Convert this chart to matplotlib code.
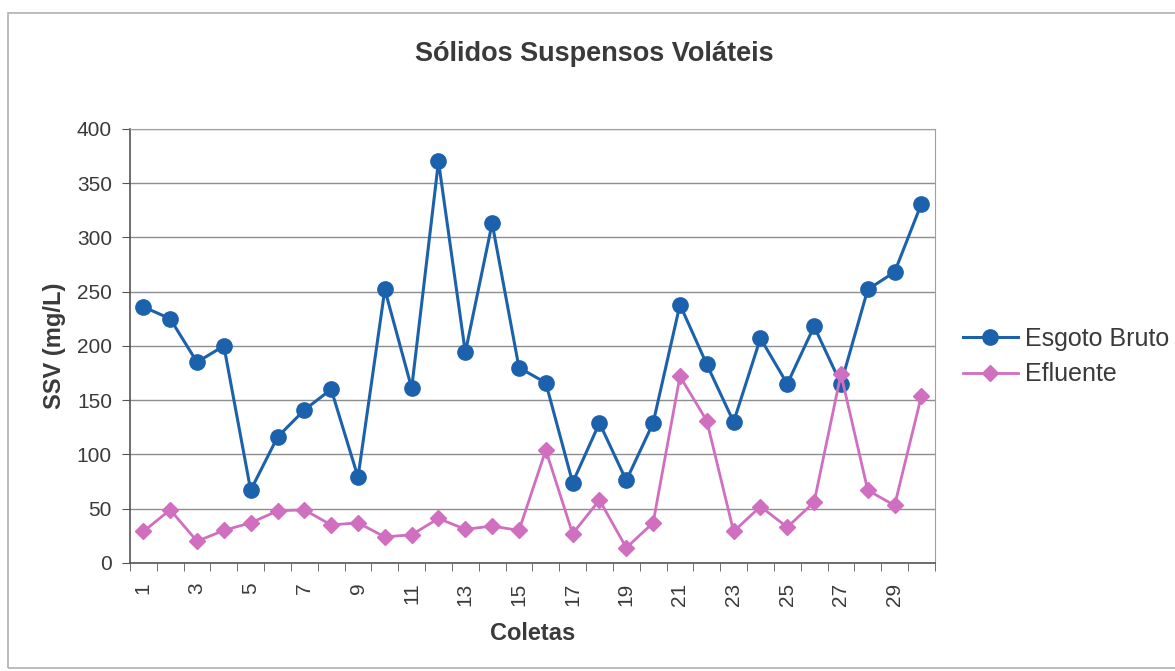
import numpy as np
import matplotlib.pyplot as plt
from matplotlib.patches import Rectangle

# Volatile suspended solids per sampling campaign
coletas = list(range(1, 31))
esgoto_bruto = [236, 225, 185, 200, 67, 116, 141, 160, 79, 252,
                161, 370, 194, 313, 180, 166, 74, 129, 76, 129,
                238, 183, 130, 207, 165, 218, 165, 252, 268, 331]
efluente = [29, 49, 20, 30, 37, 48, 49, 35, 37, 24,
            26, 41, 31, 34, 30, 104, 27, 58, 14, 37,
            172, 131, 29, 52, 33, 56, 174, 67, 53, 154]
y_ticks = [0, 50, 100, 150, 200, 250, 300, 350, 400]

plt.rcParams['font.family'] = ['Liberation Sans', 'DejaVu Sans']
text_color = '#3a3a3a'

fig = plt.figure(figsize=(11.75, 6.71), dpi=100)
# chart frame, running off the right edge
fig.patches.append(Rectangle((0.007, 0.005), 1.05, 0.975, transform=fig.transFigure,
                             fill=False, edgecolor='#b0b0b0', linewidth=1.2))

ax = fig.add_axes([0.1106, 0.161, 0.685, 0.647])
x = np.arange(len(coletas))

ax.plot(x, esgoto_bruto, color='#1c61ab', linewidth=2.2, marker='o',
        markersize=11, label='Esgoto Bruto', zorder=3)
ax.plot(x, efluente, color='#d06ec0', linewidth=2.0, marker='D',
        markersize=8.5, label='Efluente', zorder=3)

ax.set_xlim(-0.5, len(coletas) - 0.5)
ax.set_ylim(0, 400)
ax.set_yticks(y_ticks)
ax.tick_params(axis='y', labelsize=15, length=6, color='#555555',
               labelcolor=text_color, pad=7)
ax.yaxis.grid(True, color='#8e8e8e', linewidth=1.0)
ax.set_axisbelow(True)

# labels on every other category, tick marks on category boundaries
ax.set_xticks(x[::2])
ax.set_xticklabels([str(c) for c in coletas[::2]], rotation=90, fontsize=15,
                   color=text_color)
ax.tick_params(axis='x', length=0, pad=14)
ax.set_xticks(np.arange(-0.5, len(coletas)), minor=True)
ax.tick_params(axis='x', which='minor', length=6, color='#555555')

for side in ['top', 'right']:
    ax.spines[side].set_color('#a0a0a0')
for side in ['left', 'bottom']:
    ax.spines[side].set_color('#555555')
    ax.spines[side].set_linewidth(1.2)

fig.text(0.5055, 0.920, 'Sólidos Suspensos Voláteis', fontsize=19.5,
         fontweight='bold', color=text_color, ha='center', va='center')
ax.set_ylabel('SSV (mg/L)', fontsize=17, fontweight='bold', color=text_color, labelpad=8)
ax.set_xlabel('Coletas', fontsize=17, fontweight='bold', color=text_color, labelpad=12)

ax.legend(loc='center left', bbox_to_anchor=(1.007, 0.475), frameon=False,
          fontsize=18, handlelength=2.2, handletextpad=0.28, labelspacing=0.45,
          labelcolor=text_color)

fig.savefig('out.png', dpi=100)
